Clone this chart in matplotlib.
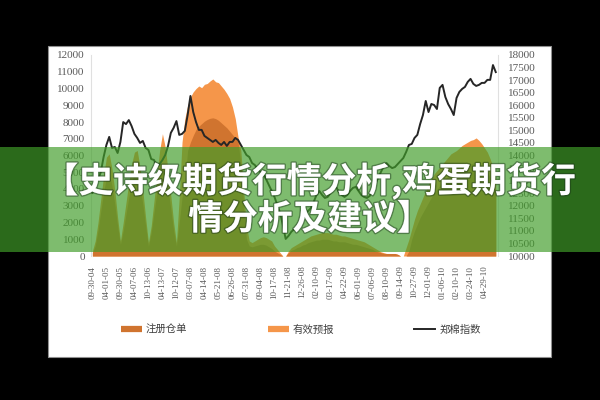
import numpy as np
import matplotlib
matplotlib.use('Agg')
import matplotlib.pyplot as plt
from matplotlib.patches import Rectangle
from matplotlib.lines import Line2D
import matplotlib.patheffects as pe

plt.rcParams['font.family'] = ['Liberation Serif', 'Noto Sans CJK SC', 'DejaVu Sans']

# ---------------- data ----------------
date_labels = ['09-30-04', '04-01-05', '09-30-05', '04-07-06', '10-13-06', '04-13-07',
               '10-12-07', '03-07-08', '04-14-08', '05-21-08', '06-26-08', '07-31-08',
               '09-04-08', '10-17-08', '11-21-08', '12-26-08', '02-10-09', '03-17-09',
               '04-22-09', '06-01-09', '07-06-09', '08-10-09', '09-14-09', '10-27-09',
               '12-01-09', '01-06-10', '02-10-10', '03-24-10', '04-29-10']
label_step = 5

series_names = ['注册仓单', '有效预报', '郑棉指数']

# 注册仓单 (registered warrants, left axis)
warrants = [200, 600, 1500, 2700, 3800, 4700, 4900, 4200, 3100, 1800,
            700, 1500, 2500, 3500, 4400, 5000, 5000, 4200, 3100, 1800,
            600, 1400, 2600, 3800, 4800, 5400, 5000, 4000, 2800, 1500,
            600, 2000, 3500, 4500, 6300, 6800, 7200, 7550, 7750, 7900,
            8050, 8150, 8220, 8250, 8200, 8100, 7950, 7800, 7650, 7450,
            7250, 7050, 6800, 5500, 3000, 1000, 600, 550, 600, 650,
            700, 700, 650, 550, 450, 300, 200, 100, 0, 0,
            200, 350, 400, 500, 550, 650, 700, 800, 850, 900,
            950, 950, 1000, 1000, 1000, 950, 900, 900, 850, 850,
            850, 800, 750, 700, 700, 650, 600, 550, 500, 450,
            400, 300, 250, 200, 150, 150, 150, 150, 150, 100,
            0, 0, 0, 300, 1000, 1500, 1900, 2300, 2600, 2900,
            3200, 3500, 3800, 4000, 4200, 4400, 4600, 4800, 4900, 5000,
            5100, 5200, 5300, 5400, 5450, 5500, 5550, 5600, 5500, 5400,
            5200, 5000, 4700, 4300, 3800]

# 有效预报 (valid forecasts, left axis)
forecasts = [300, 900, 2000, 3400, 4800, 5900, 6100, 5200, 3900, 2300,
             900, 2000, 3200, 4400, 5500, 6200, 6300, 5300, 3900, 2300,
             800, 1800, 3300, 4800, 6300, 7300, 6500, 5100, 3600, 2000,
             800, 3500, 6800, 8200, 9000, 9500, 9800, 10000, 10150, 10050,
             10250, 10300, 10450, 10570, 10400, 10350, 10150, 9950, 9700, 9400,
             8900, 8200, 7100, 6300, 4000, 1800, 900, 800, 900, 1000,
             1100, 1150, 1100, 1000, 900, 600, 400, 200, 0, 0,
             300, 500, 600, 700, 800, 900, 1000, 1100, 1200, 1250,
             1300, 1350, 1400, 1400, 1400, 1350, 1300, 1300, 1250, 1200,
             1200, 1150, 1100, 1050, 1000, 950, 900, 850, 750, 650,
             550, 450, 350, 250, 200, 150, 150, 150, 150, 100,
             0, 0, 500, 1000, 1600, 2200, 2700, 3100, 3500, 3900,
             4300, 4600, 4900, 5100, 5300, 5500, 5700, 5900, 6100, 6200,
             6300, 6450, 6600, 6700, 6800, 6900, 6950, 7050, 6900, 6700,
             6450, 6200, 5800, 5300, 4600]

# 郑棉指数 (Zhengzhou cotton index, right axis)
cotton_index = [12510, 12790, 13030, 13340, 13940, 14420, 14740, 14300, 14340, 14100,
                14540, 15330, 15250, 15410, 15170, 14860, 14700, 14500, 14580, 14300,
                14220, 13860, 13820, 13580, 13660, 13820, 14020, 14380, 14900, 15100,
                15370, 14820, 14860, 14980, 15610, 16370, 15730, 15330, 15020, 15020,
                14780, 14700, 14620, 14540, 14620, 14500, 14420, 14540, 14380, 14540,
                14540, 14700, 14620, 14420, 14220, 14020, 13940, 13700, 13620, 13460,
                13340, 13260, 13060, 12830, 12590, 12350, 12030, 11710, 11230, 10680,
                10800, 10960, 11070, 11190, 11390, 11550, 11710, 11790, 11910, 12150,
                12430, 12590, 12430, 12310, 12350, 12510, 12630, 12750, 12550, 12430,
                12350, 12430, 12590, 12710, 12750, 12590, 12430, 12350, 12310, 12390,
                12630, 12870, 13100, 13340, 13580, 13700, 13580, 13500, 13540, 13660,
                13780, 13900, 14140, 14420, 14460, 14700, 14820, 15250, 15610, 16170,
                15730, 16050, 16010, 15850, 16690, 16810, 16330, 16050, 15850, 15610,
                16290, 16530, 16650, 16730, 16930, 17050, 16850, 16770, 16810, 16890,
                16890, 17010, 17010, 17600, 17320]

left_ticks = list(range(0, 12001, 1000))
right_ticks = list(range(10000, 18001, 500))

title_line1 = '【史诗级期货行情分析,鸡蛋期货行'
title_line2 = '情分析及建议】'

# ---------------- styles ----------------
dark_orange = '#d0742f'
light_orange = '#f5964a'
line_color = '#262626'
tick_color = '#595959'
W, H = 600, 400

fig = plt.figure(figsize=(6, 4), dpi=100, facecolor='black')

panel = Rectangle((48 / W, 1 - 357 / H), (551 - 48) / W, (357 - 46) / H,
                  transform=fig.transFigure, facecolor='white',
                  edgecolor='#909090', linewidth=0.8, zorder=-10)
fig.add_artist(panel)

ax = fig.add_axes([91 / W, 1 - 256 / H, 407 / W, 201 / H])
ax.set_facecolor('white')
x = np.arange(len(cotton_index))
ax.fill_between(x, 0, forecasts, color=light_orange, linewidth=0, zorder=1)
ax.fill_between(x, 0, warrants, color=dark_orange, linewidth=0, zorder=2)
ax.set_xlim(-0.5, 144.8)
ax.set_ylim(0, 12000)
ax.set_yticks(left_ticks)
ax.set_xticks(x[::label_step])
ax.set_xticklabels(date_labels, rotation=90, fontsize=6.5, color=tick_color,
                   family='Liberation Serif')
ax.tick_params(axis='x', length=0, pad=7)
ax.tick_params(axis='y', length=0, pad=4.5, labelsize=8, labelcolor=tick_color)
for s in ['top', 'bottom', 'right']:
    ax.spines[s].set_visible(False)
ax.spines['left'].set_color('#e0e0e0')
ax.spines['left'].set_linewidth(0.8)

ax2 = ax.twinx()
ax2.plot(x, cotton_index, color=line_color, linewidth=1.4, zorder=3)
ax2.set_ylim(10000, 18000)
ax2.set_yticks(right_ticks)
ax2.tick_params(axis='y', length=0, pad=7, labelsize=8, labelcolor=tick_color)
for s in ['top', 'bottom', 'left']:
    ax2.spines[s].set_visible(False)
ax2.spines['right'].set_color('#e0e0e0')
ax2.spines['right'].set_linewidth(0.8)

handles = [Line2D([], [], color=dark_orange, linewidth=4.5, solid_capstyle='butt'),
           Line2D([], [], color=light_orange, linewidth=4.5, solid_capstyle='butt'),
           Line2D([], [], color=line_color, linewidth=1.4)]
fig.legend(handles, series_names, loc='center', bbox_to_anchor=(301 / W, 1 - 330 / H),
           ncol=3, frameon=False, handlelength=2.0, handletextpad=0.4,
           columnspacing=7.7,
           prop={'family': ['Noto Sans CJK SC', 'DejaVu Sans'], 'size': 7.5},
           labelcolor='#404040')

banner = Rectangle((0, 1 - 252 / H), 1, 105 / H, transform=fig.transFigure,
                   facecolor='#419d29', alpha=0.68, linewidth=0, zorder=10)
fig.add_artist(banner)

effects = [pe.withStroke(linewidth=2.0, foreground=(0.1, 0.2, 0.1, 0.45))]
for txt, yy in [(title_line1, 181), (title_line2, 219)]:
    fig.text(310 / W, 1 - yy / H, txt, ha='center', va='center', color='white',
             fontsize=25, fontweight='bold',
             family=['Noto Sans CJK SC', 'DejaVu Sans'],
             path_effects=effects, zorder=11)

fig.savefig('out.png', dpi=100, facecolor='black')
